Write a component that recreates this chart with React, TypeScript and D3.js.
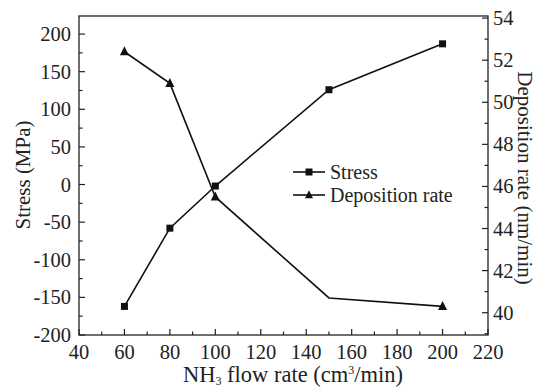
import React from 'react';
import * as d3 from 'd3';

const flowRates = [60, 80, 100, 150, 200];
const stress = [-162, -58, -2, 126, 187];
const depositionRate = [52.4, 50.9, 45.5, 40.7, 40.3];
const depositionMarked = [true, true, true, false, true];

const xTicks = [40, 60, 80, 100, 120, 140, 160, 180, 200, 220];
const stressTicks = [-200, -150, -100, -50, 0, 50, 100, 150, 200];
const rateTicks = [40, 42, 44, 46, 48, 50, 52, 54];

const W = 544;
const H = 389;
const m = { left: 79, right: 488, top: 16, bottom: 335 };
const font = '"Liberation Serif", "Times New Roman", serif';
const fs = 20.5;

const App = () => {
  const x = d3.scaleLinear().domain([40, 220]).range([m.left, m.right]);
  const yS = d3.scaleLinear().domain([-200, 224]).range([m.bottom, m.top]);
  const yR = d3.scaleLinear().domain([38.94, 54.1]).range([m.bottom, m.top]);

  const stressLine = d3.line<number>()
    .x((_, i) => x(flowRates[i]))
    .y(d => yS(d));
  const rateLine = d3.line<number>()
    .x((_, i) => x(flowRates[i]))
    .y(d => yR(d));

  const xMinor = d3.range(50, 220, 20);
  const sMinor = d3.range(-175, 224, 50);
  const rMinor = d3.range(39, 54.1, 2);

  const tri = (cx: number, cy: number, s = 9) =>
    `M${cx},${cy - s * 0.6}L${cx + s / 2},${cy + s * 0.4}L${cx - s / 2},${cy + s * 0.4}Z`;

  const lx = 293;
  const ly1 = 172;
  const ly2 = 195;

  return (
    <svg width={W} height={H} style={{ position: 'absolute', left: 0, top: 0 }} fontFamily={font}>
      <rect width={W} height={H} fill="#fff" />
      {/* frame */}
      <rect x={m.left} y={m.top} width={m.right - m.left} height={m.bottom - m.top}
        fill="none" stroke="#222" strokeWidth={1.3} />

      {/* x ticks */}
      {xTicks.map(t => (
        <g key={'x' + t}>
          <line x1={x(t)} x2={x(t)} y1={m.bottom} y2={m.bottom - 6} stroke="#222" strokeWidth={1.2} />
          <text x={x(t)} y={359} fontSize={fs} textAnchor="middle" fill="#222">{t}</text>
        </g>
      ))}
      {xMinor.map(t => (
        <line key={'xm' + t} x1={x(t)} x2={x(t)} y1={m.bottom} y2={m.bottom - 3.5} stroke="#222" strokeWidth={1.2} />
      ))}

      {/* left ticks */}
      {stressTicks.map(t => (
        <g key={'s' + t}>
          <line x1={m.left} x2={m.left + 6} y1={yS(t)} y2={yS(t)} stroke="#222" strokeWidth={1.2} />
          <text x={71} y={yS(t) + 7} fontSize={fs} textAnchor="end" fill="#222">{t}</text>
        </g>
      ))}
      {sMinor.map(t => (
        <line key={'sm' + t} x1={m.left} x2={m.left + 3.5} y1={yS(t)} y2={yS(t)} stroke="#222" strokeWidth={1.2} />
      ))}

      {/* right ticks */}
      {rateTicks.map(t => (
        <g key={'r' + t}>
          <line x1={m.right} x2={m.right - 6} y1={yR(t)} y2={yR(t)} stroke="#222" strokeWidth={1.2} />
          <text x={493} y={yR(t) + 7} fontSize={fs} textAnchor="start" fill="#222">{t}</text>
        </g>
      ))}
      {rMinor.map(t => (
        <line key={'rm' + t} x1={m.right} x2={m.right - 3.5} y1={yR(t)} y2={yR(t)} stroke="#222" strokeWidth={1.2} />
      ))}

      {/* axis titles */}
      <text transform="translate(30,175) rotate(-90)" fontSize={21} textAnchor="middle" fill="#222">Stress (MPa)</text>
      <text transform="translate(518,178) rotate(90)" fontSize={21} textAnchor="middle" fill="#222">Deposition rate (nm/min)</text>
      <text x={293} y={382} fontSize={22.5} textAnchor="middle" fill="#222">
        NH<tspan fontSize={12} dy={2.5}>3</tspan><tspan dy={-2.5}> flow rate (cm</tspan>
        <tspan fontSize={12} dy={-8}>3</tspan><tspan dy={8}>/min)</tspan>
      </text>

      {/* series */}
      <path d={stressLine(stress) || ''} fill="none" stroke="#111" strokeWidth={1.6} />
      <path d={rateLine(depositionRate) || ''} fill="none" stroke="#111" strokeWidth={1.6} />
      {stress.map((v, i) => (
        <rect key={'sq' + i} x={x(flowRates[i]) - 3.5} y={yS(v) - 3.5} width={7} height={7} fill="#111" />
      ))}
      {depositionRate.map((v, i) => depositionMarked[i] ? (
        <path key={'tr' + i} d={tri(x(flowRates[i]), yR(v))} fill="#111" />
      ) : null)}

      {/* legend */}
      <line x1={lx} x2={lx + 32} y1={ly1} y2={ly1} stroke="#111" strokeWidth={1.6} />
      <rect x={lx + 16 - 3.5} y={ly1 - 3.5} width={7} height={7} fill="#111" />
      <text x={lx + 37} y={ly1 + 7} fontSize={20} fill="#222">Stress</text>
      <line x1={lx} x2={lx + 32} y1={ly2} y2={ly2} stroke="#111" strokeWidth={1.6} />
      <path d={tri(lx + 16, ly2, 8)} fill="#111" />
      <text x={lx + 37} y={ly2 + 7} fontSize={20} fill="#222">Deposition rate</text>
    </svg>
  );
};

export default App;
